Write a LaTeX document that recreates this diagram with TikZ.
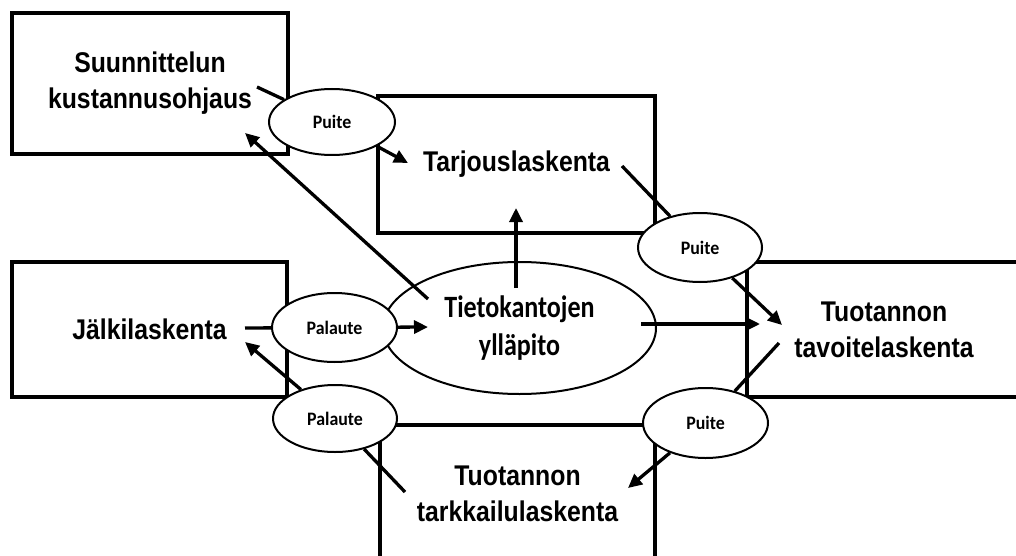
\documentclass[tikz,border=0pt]{standalone}
\usepackage{fontspec}
\setmainfont{Liberation Sans}
\newfontfamily\boxfont{Liberation Sans}[FakeStretch=0.87]
\newfontfamily\tietofont{Carlito}[FakeStretch=0.84]
\newfontfamily\smallfont{Carlito}[FakeStretch=0.94]
\usetikzlibrary{arrows.meta,shapes.geometric}
\begin{document}
\begin{tikzpicture}[x=1pt,y=-1pt,
  box/.style={draw, line width=4.2pt, inner sep=0pt, align=center, font=\boxfont\bfseries\fontsize{28.5}{36}\selectfont},
  oval/.style={draw, ellipse, fill=white, line width=2pt, inner sep=0pt, font=\smallfont\bfseries\fontsize{19}{20}\selectfont},
  arr/.style={line width=3.3pt, -{Triangle[length=14pt,width=13pt]}},
  ln/.style={line width=3.3pt}]
\useasboundingbox (0,0) rectangle (1016,556);
\clip (0,0) rectangle (1016,556);
% boxes
\node[box, minimum width=276pt, minimum height=141pt] (suun) at (150,83.5) {Suunnittelun\\kustannusohjaus};
\node[box, minimum width=277pt, minimum height=137pt] (tarj) at (516.5,164.5) {Tarjouslaskenta};
\node[box, minimum width=275pt, minimum height=135pt] (jalk) at (149.5,329.5) {Jälkilaskenta};
\node[box, minimum width=274pt, minimum height=135pt] (tavo) at (884,329.5) {Tuotannon\\tavoitelaskenta};
\node[box, minimum width=275pt, minimum height=138pt] (tark) at (517.5,494) {Tuotannon\\tarkkailulaskenta};
% central ellipse
\node[draw, ellipse, fill=white, line width=2pt, inner sep=0pt, minimum width=273pt, minimum height=132pt, align=center, font=\tietofont\bfseries\fontsize{31}{38}\selectfont] (tieto) at (519.5,328) {Tietokantojen\\ylläpito};
% small ellipses
\node[oval, minimum width=126pt, minimum height=66pt] (p1) at (332,122) {Puite};
\node[oval, minimum width=124pt, minimum height=69pt] (p2) at (700,247.5) {Puite};
\node[oval, minimum width=125pt, minimum height=69pt] (pa1) at (334.5,327.5) {Palaute};
\node[oval, minimum width=124pt, minimum height=67pt] (pa2) at (335,418.5) {Palaute};
\node[oval, minimum width=125pt, minimum height=70pt] (p3) at (705.5,423) {Puite};
% connector ends
\coordinate (suunout) at (257,87);
\coordinate (tarin) at (408,163);
\coordinate (tarout) at (622,166);
\coordinate (tavin) at (782,325);
\coordinate (tavout) at (779,343);
\coordinate (tarkin) at (628,488);
\coordinate (tarkout) at (405,492);
\coordinate (jalin) at (245,342);
\coordinate (jalout) at (245,328);
\coordinate (tiein) at (428,327);
\coordinate (tiea) at (428,299);
\coordinate (suunin) at (245,133);
\coordinate (tieb) at (516,288);
\coordinate (tarin2) at (516,208);
\coordinate (tiec) at (641,324);
\coordinate (tavin2) at (760,324);
% connectors
\draw[ln] (suunout) -- (p1);
\draw[arr] (p1) -- (tarin);
\draw[ln] (tarout) -- (p2);
\draw[arr] (p2) -- (tavin);
\draw[ln] (tavout) -- (p3);
\draw[arr] (p3) -- (tarkin);
\draw[ln] (tarkout) -- (pa2);
\draw[arr] (pa2) -- (jalin);
\draw[ln] (jalout) -- (pa1);
\draw[arr] (pa1) -- (tiein);
\draw[arr] (tiea) -- (suunin);
\draw[arr] (tieb) -- (tarin2);
\draw[arr] (tiec) -- (tavin2);
\end{tikzpicture}
\end{document}
